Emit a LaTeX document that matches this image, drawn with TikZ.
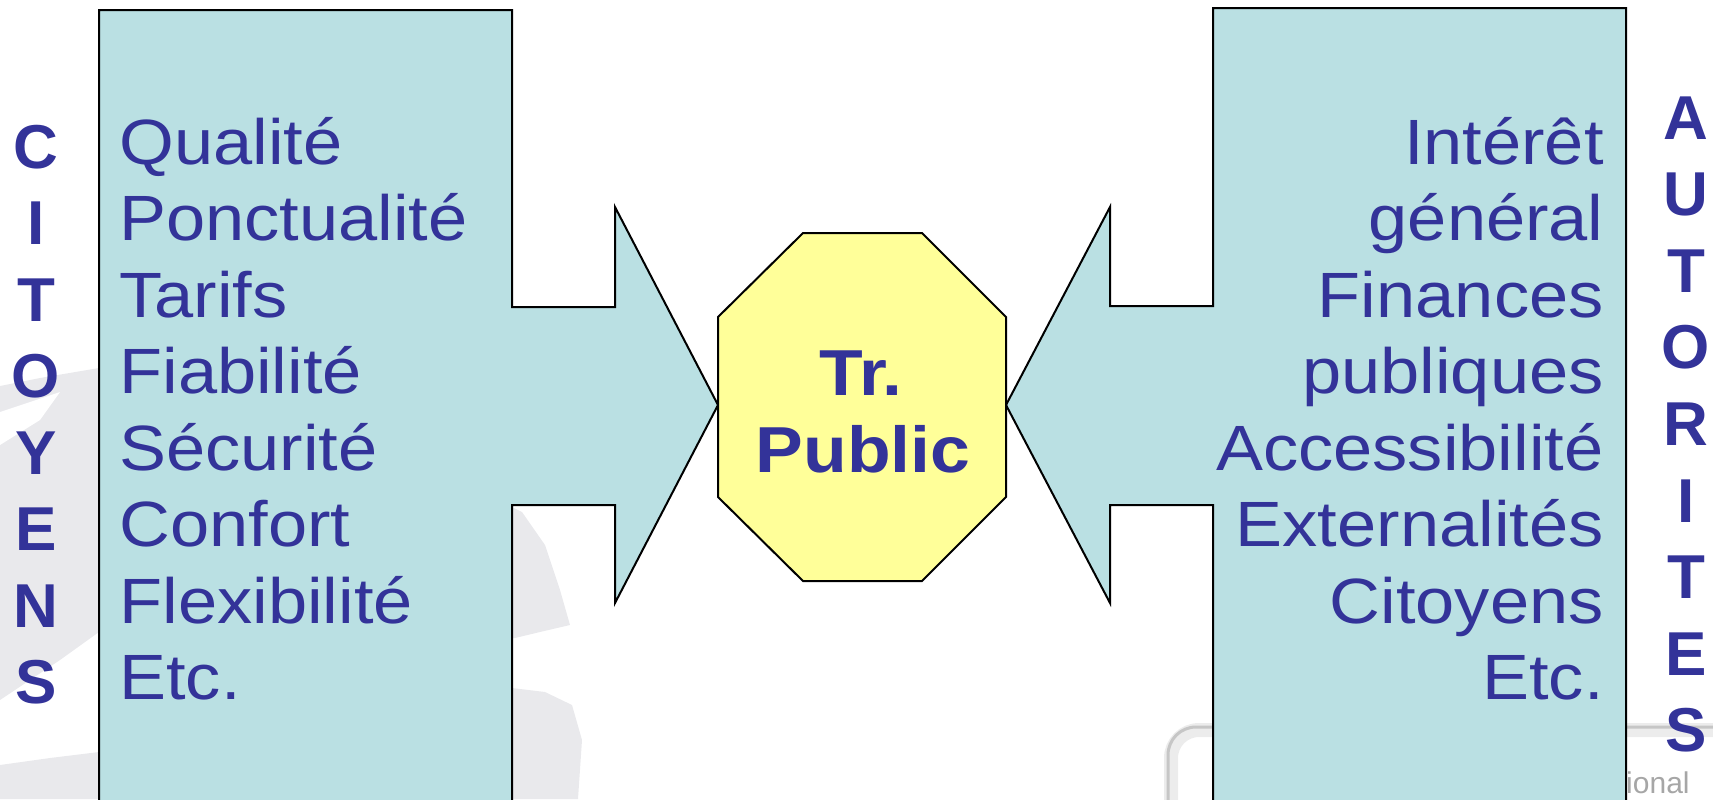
\documentclass[tikz,border=0pt]{standalone}
\usepackage{fontspec}
\setmainfont{Liberation Sans}
\newfontfamily\listfont[FakeStretch=1.1]{Liberation Sans}
\newfontfamily\plainsans{Liberation Sans}
\definecolor{txtblue}{HTML}{333399}
\definecolor{boxfill}{HTML}{BAE0E3}
\definecolor{octfill}{HTML}{FFFF99}
\definecolor{mapgray}{HTML}{E9E9EC}
\tikzset{
  block/.style={fill=boxfill, draw=black, line width=1pt, line join=miter},
  octa/.style={fill=octfill, draw=black, line width=1pt},
  listitem/.style={inner sep=0pt, text=txtblue, font=\listfont\fontsize{32}{38}\selectfont},
  sideletter/.style={inner sep=0pt, anchor=base, text=txtblue, font=\plainsans\bfseries\fontsize{31}{38}\selectfont},
  centertxt/.style={inner sep=0pt, anchor=base, text=txtblue, font=\listfont\bfseries\fontsize{32.5}{38}\selectfont},
}
\begin{document}
\begin{tikzpicture}[x=0.5pt,y=-0.5pt]
\useasboundingbox (0,0) rectangle (1713,799);
\clip (0,0) rectangle (1713,799);

% faint map watermark in the background
\fill[mapgray] (0,386) -- (40,378) -- (99,368) -- (99,632) -- (60,660) -- (0,700) -- cycle;
\fill[white] (0,412) -- (30,402) -- (60,392) -- (40,420) -- (0,445) -- cycle;
\fill[mapgray] (0,765) -- (50,758) -- (99,752) -- (99,799) -- (0,799) -- cycle;
\fill[mapgray] (512,507) -- (522,512) -- (545,545) -- (560,590) -- (570,625) -- (540,632) -- (515,638) -- (512,638) -- cycle;
\fill[mapgray] (512,688) -- (545,692) -- (572,705) -- (582,740) -- (578,799) -- (512,799) -- cycle;

% frame at the lower right
\draw[gray!15, line width=7pt, rounded corners=14pt] (1171,830) -- (1171,730) -- (1760,730);
\draw[gray!45, line width=1.5pt, rounded corners=14pt] (1168,830) -- (1168,727) -- (1760,727);
\node[inner sep=0pt, anchor=base east, text=gray!70, font=\plainsans\fontsize{15}{18}\selectfont] (frametxt) at (1690,793) {ional};

% left block arrow
\draw[block] (99,10) -- (512,10) -- (512,307) -- (615,307) -- (615,207) -- (718,405)
  -- (615,603) -- (615,505) -- (512,505) -- (512,830) -- (99,830) -- cycle;
% right block arrow
\draw[block] (1213,8) -- (1626,8) -- (1626,830) -- (1213,830) -- (1213,505) -- (1110,505)
  -- (1110,603) -- (1006,405) -- (1110,207) -- (1110,306) -- (1213,306) -- cycle;

% central octagon
\draw[octa] (803,233) -- (922,233) -- (1006,317) -- (1006,497) -- (922,581)
  -- (803,581) -- (718,497) -- (718,317) -- cycle;
\node[centertxt] (tr) at (861,395) {Tr.};
\node[centertxt] (pub) at (863,472) {Public};

% left list
\foreach \t [count=\i] in {Qualité,Ponctualité,Tarifs,Fiabilité,Sécurité,Confort,Flexibilité,Etc.}
  \node[listitem, anchor=base west] (l\i) at (119,{164+76.5*(\i-1)}) {\t};
% right list
\foreach \t [count=\i] in {Intérêt,général,Finances,publiques,Accessibilité,Externalités,Citoyens,Etc.}
  \node[listitem, anchor=base east] (r\i) at (1604,{164+76.5*(\i-1)}) {\t};

% vertical side words
\foreach \c [count=\i] in {C,I,T,O,Y,E,N,S}
  \node[sideletter] (c\i) at (36,{168+76.5*(\i-1)}) {\c};
\foreach \c [count=\i] in {A,U,T,O,R,I,T,E,S}
  \node[sideletter] (a\i) at (1686,{139+76.6*(\i-1)}) {\c};
\end{tikzpicture}
\end{document}
